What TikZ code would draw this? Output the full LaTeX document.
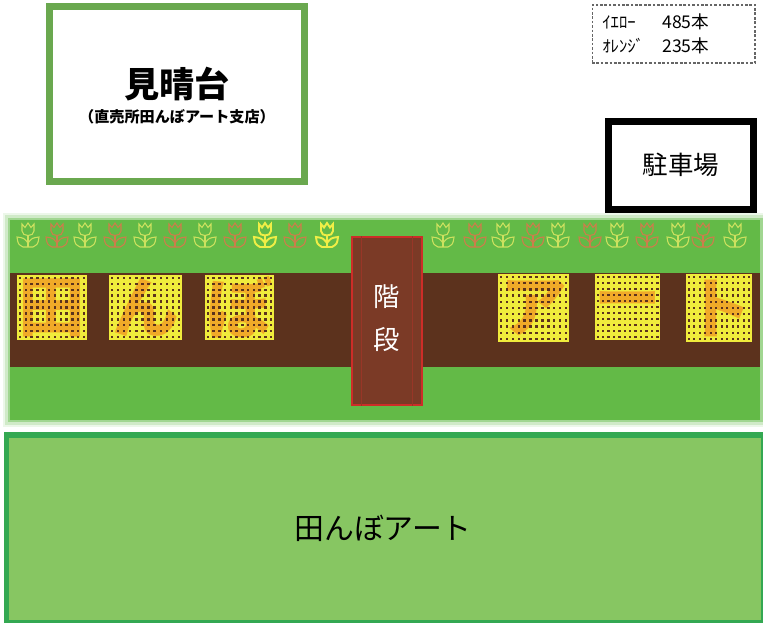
\documentclass[tikz,border=0pt]{standalone}
\usepackage{fontspec}
\setmainfont{Noto Sans CJK JP}
\usetikzlibrary{positioning,calc}

\definecolor{grass}{RGB}{99,186,71}
\definecolor{soil}{RGB}{92,50,29}
\definecolor{stairbrown}{RGB}{123,58,38}
\definecolor{stairred}{RGB}{205,45,40}
\definecolor{viewgreen}{RGB}{106,168,79}
\definecolor{fieldgreen}{RGB}{135,198,98}
\definecolor{fieldedge}{RGB}{52,168,82}
\definecolor{riceyellow}{RGB}{240,236,60}
\definecolor{riceorange}{RGB}{240,170,40}
\definecolor{budgreen}{RGB}{205,225,95}
\definecolor{budred}{RGB}{205,125,75}
\definecolor{budyellow}{RGB}{240,238,70}

\begin{document}
\begin{tikzpicture}[x=0.02cm,y=-0.02cm,
    every node/.style={inner sep=0pt},
    tulip/.pic={
      \draw (-6,-5) .. controls (-6,1) and (6,1) .. (6,-5) -- (6,-12) -- (3,-8.5) -- (0,-13) -- (-3,-8.5) -- (-6,-12) -- cycle;
      \draw (0,-1) -- (0,11);
      \draw (0,7) .. controls (-4,2) .. (-11,1) .. controls (-10,8) .. (-5,11) -- (5,11) .. controls (10,8) .. (11,1) .. controls (4,2) .. (0,7);
    },
    box/.style={draw, minimum width=#1},
    ricechar/.style={text=riceorange, font=\bfseries\fontsize{38}{38}\selectfont}]

  \fill[white] (0,0) rectangle (763,623);
  \useasboundingbox (0,0) rectangle (763,623);

  \fill[grass!12] (3,213) rectangle (763,427);
  \fill[grass!30] (5,215) rectangle (763,425);
  \fill[grass!60] (8,218) rectangle (763,422);
  \fill[grass] (10,220) rectangle (760,420);
  \fill[soil] (10,273) rectangle (760,367);

  \foreach \fx/\fc/\fw in {28/budgreen/0.6pt, 57/budred/0.6pt, 85/budgreen/0.6pt, 115/budred/0.6pt,
      145/budgreen/0.6pt, 175/budred/0.6pt, 205/budgreen/0.6pt, 235/budred/0.6pt,
      265/budyellow/1.1pt, 295/budred/0.6pt, 327/budyellow/1.1pt,
      443/budgreen/0.6pt, 475/budred/0.6pt, 503/budgreen/0.6pt, 533/budred/0.6pt,
      558/budgreen/0.6pt, 590/budred/0.6pt, 617/budgreen/0.6pt, 647/budred/0.6pt,
      678/budgreen/0.6pt, 703/budred/0.6pt, 735/budgreen/0.6pt}
    \pic[color=\fc, line width=\fw] at (\fx,236) {tulip};

  \foreach \xa/\ya/\xb/\yb/\ch/\nm in {17/275/87/340/田/p_1, 109/275/182/340/ん/p_2, 205/275/274/340/ぼ/p_3,
      498/274/569/342/ア/p_4, 595/274/660/340/ー/p_5, 686/274/752/342/ト/p_6} {
    \fill[riceyellow] (\xa,\ya) rectangle (\xb,\yb);
    \begin{scope}
      \clip (\xa,\ya) rectangle (\xb,\yb);
      \node[ricechar] (\nm) at ({(\xa+\xb)/2},{(\ya+\yb)/2}) {\ch};
    \end{scope}
    \pgfmathsetmacro\px{(\xb-\xa)/12}
    \pgfmathsetmacro\py{(\yb-\ya)/11}
    \foreach \i in {0,...,11}
      \foreach \j in {0,...,10}
        \fill[soil] ({\xa+(\i+0.5)*\px-1.2},{\ya+(\j+0.5)*\py-1.2}) rectangle ++(2.4,2.4);
  }

  \node[draw=stairred, fill=stairbrown, line width=0.8pt, minimum width=1.4cm, minimum height=3.36cm] (stairs) at (387,321) {};
  \draw[stairred!35!stairbrown, line width=0.5pt] ([xshift=0.2cm]stairs.north west) -- ([xshift=0.2cm]stairs.south west);
  \draw[stairred!35!stairbrown, line width=0.5pt] ([xshift=-0.2cm]stairs.north east) -- ([xshift=-0.2cm]stairs.south east);
  \node[text=white, font=\fontsize{15}{15}\selectfont] (stairs_1) at (387,297) {階};
  \node[text=white, font=\fontsize{15}{15}\selectfont] (stairs_2) at (387,340) {段};

  \node[box=5.1cm, draw=viewgreen, line width=4pt, fill=white, minimum height=3.5cm] (view) at (177,94) {};
  \node[font=\bfseries\fontsize{20}{20}\selectfont] (view_name) at (177,84) {見晴台};
  \node[font=\bfseries\fontsize{8.6}{8.6}\selectfont] (view_shop) at (177,117) {（直売所田んぼアート支店）};

  \node[box=2.9cm, line width=4pt, minimum height=1.76cm] (parking) at (681,165.5) {};
  \node[font=\fontsize{14.5}{14.5}\selectfont] (parking_name) at (681,165) {駐車場};

  \node[box=3.26cm, draw=black!60, dash pattern=on 1.5pt off 1pt, line width=0.6pt, minimum height=1.16cm] (legend) at (673.5,34) {};
  \node[anchor=west, font=\fontsize{9.5}{9.5}\selectfont] (yellow_name) at (602,22) {ｲｴﾛｰ};
  \node[anchor=west, font=\fontsize{10}{10}\selectfont] (yellow_count) at (662,22) {485本};
  \node[anchor=west, font=\fontsize{9.5}{9.5}\selectfont] (orange_name) at (602,46) {ｵﾚﾝｼﾞ};
  \node[anchor=west, font=\fontsize{10}{10}\selectfont] (orange_count) at (662,46) {235本};

  \fill[fieldedge] (4,432) rectangle (763,623);
  \fill[fieldgreen] (9,438) rectangle (761,620);
  \node[font=\fontsize{17}{17}\selectfont] (field_name) at (383,528) {田んぼアート};

\end{tikzpicture}
\end{document}
